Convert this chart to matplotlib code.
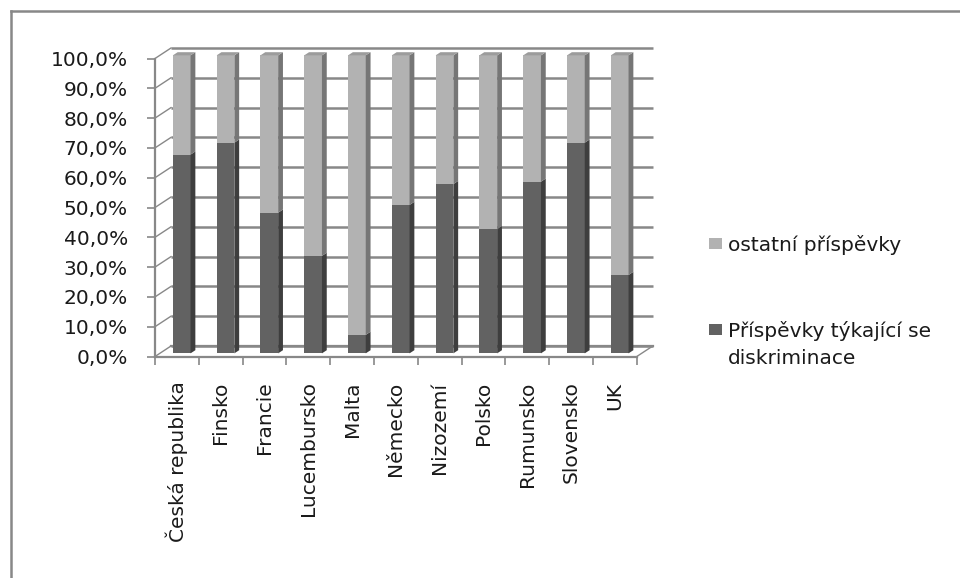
import matplotlib.pyplot as plt
from matplotlib.patches import Polygon, Rectangle
from matplotlib.lines import Line2D

plt.rcParams['font.family'] = ['DejaVu Sans']

countries = ['Česká republika', 'Finsko', 'Francie', 'Lucembursko', 'Malta',
             'Německo', 'Nizozemí', 'Polsko', 'Rumunsko', 'Slovensko', 'UK']
discrimination = [0.667, 0.707, 0.472, 0.327, 0.062, 0.498, 0.568, 0.417, 0.576, 0.707, 0.263]
other = [0.333, 0.293, 0.528, 0.673, 0.938, 0.502, 0.432, 0.583, 0.424, 0.293, 0.737]
yticks = [0.0, 0.1, 0.2, 0.3, 0.4, 0.5, 0.6, 0.7, 0.8, 0.9, 1.0]

W, H = 960, 578
LIGHT, LIGHT_SIDE, LIGHT_TOP = '#b2b2b2', '#767676', '#9c9c9c'
DARK, DARK_SIDE = '#626262', '#3e3e3e'
GRID = '#888888'
TXT = '#1a1a1a'
FS = 14.5

# pixel scale of one category and of 100 %
sx, sy = 43.8, 298.0
# depth of the 3d box (back wall offset) in data units
DX, DY = 16 / sx, 10.5 / sy
fx, fy = 0.3 * DX, 0.3 * DY      # bar front
bx, by = 0.6 * DX, 0.6 * DY      # bar back
bw = 17.7 / sx

fig = plt.figure(figsize=(W / 100, H / 100), dpi=100)
left_px, bottom_px, right_px, top_px = 155, 356.5, 660, 40
ax = fig.add_axes([left_px / W, 1 - bottom_px / H,
                   (right_px - left_px) / W, (bottom_px - top_px) / H])
ax.set_xlim(-0.5, -0.5 + (right_px - left_px) / sx)
ax.set_ylim(0, (bottom_px - top_px) / sy)
ax.patch.set_visible(False)
n = len(countries)
x0, x1 = -0.5, n - 0.5

# back wall gridlines and left wall diagonals
for v in yticks:
    ax.plot([x0 + DX, x1 + DX], [v + DY, v + DY], color=GRID, lw=1.8,
            solid_capstyle='butt', zorder=1, clip_on=False)
    ax.plot([x0, x0 + DX], [v, v + DY], color=GRID, lw=1.0, zorder=1, clip_on=False)
# floor
ax.plot([x0 + DX, x1 + DX], [DY, DY], color=GRID, lw=1.6, zorder=1, clip_on=False)
ax.plot([x1, x1 + DX], [0, DY], color=GRID, lw=1.0, zorder=1, clip_on=False)

# spines / ticks
for s in ['top', 'right']:
    ax.spines[s].set_visible(False)
ax.spines['left'].set_bounds(0, 1)
ax.spines['bottom'].set_bounds(x0, x1)
for s in ['left', 'bottom']:
    ax.spines[s].set_color(GRID)
    ax.spines[s].set_linewidth(1.6)
    ax.spines[s].set_zorder(2)

ax.set_yticks(yticks, [f'{v * 100:.1f}%'.replace('.', ',') for v in yticks])
ax.tick_params(axis='y', length=6, width=1.2, color=GRID, pad=13.5,
               labelsize=FS, labelcolor=TXT)
xs = list(range(n))
ax.set_xticks(xs, countries, rotation=90, fontsize=FS, color=TXT)
ax.tick_params(axis='x', which='major', length=0, pad=18)
ax.set_xticks([i - 0.5 for i in range(n + 1)], minor=True)
ax.tick_params(axis='x', which='minor', length=6, width=1.2, color=GRID)
for lab in ax.get_xticklabels():
    lab.set_va('top')

# stacked bars with 3d sides
for i in xs:
    d, o = discrimination[i], other[i]
    cx = i + fx
    ax.bar(cx, d, width=bw, bottom=fy, color=DARK, zorder=3, linewidth=0)
    ax.bar(cx, o, width=bw, bottom=fy + d, color=LIGHT, zorder=3, linewidth=0)
    r = cx + bw / 2
    rb = i + bx + bw / 2
    ax.add_patch(Polygon([(r, fy), (rb, by), (rb, by + d), (r, fy + d)],
                         closed=True, color=DARK_SIDE, lw=0, zorder=3))
    ax.add_patch(Polygon([(r, fy + d), (rb, by + d), (rb, by + d + o), (r, fy + d + o)],
                         closed=True, color=LIGHT_SIDE, lw=0, zorder=3))
    top = fy + d + o
    l = cx - bw / 2
    ax.add_patch(Polygon([(l, top), (r, top), (rb, by + d + o), (i + bx - bw / 2, by + d + o)],
                         closed=True, color=LIGHT_TOP, lw=0, zorder=3, clip_on=False))

# outer chart frame
fig.add_artist(Line2D([10.5 / W, 1], [1 - 10.5 / H] * 2, color='#888888', lw=1.8))
fig.add_artist(Line2D([10.5 / W] * 2, [0, 1 - 10.5 / H], color='#888888', lw=1.8))

# legend
legend = [(LIGHT, 'ostatní příspěvky', 238),
          (DARK, 'Příspěvky týkající se\ndiskriminace', 324)]
for color, label, ytop in legend:
    fig.add_artist(Rectangle((709 / W, 1 - (ytop + 11) / H), 13 / W, 11 / H,
                             facecolor=color, edgecolor='none'))
    fig.text(728 / W, 1 - (ytop - 3) / H, label, fontsize=FS, va='top', ha='left',
             linespacing=1.5, color=TXT)

fig.savefig('out.png', dpi=100)
